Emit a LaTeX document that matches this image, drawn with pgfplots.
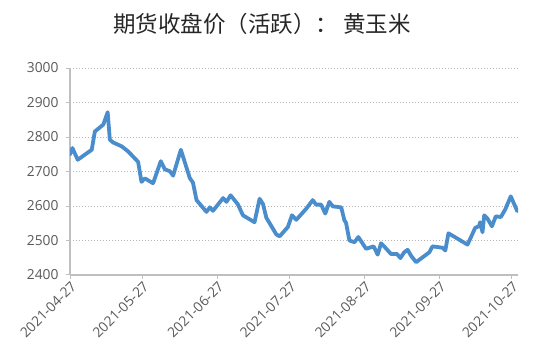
\documentclass[border=0pt]{standalone}
\usepackage{fontspec}
\setmainfont{Open Sans}
\newfontfamily\cjk{Noto Sans CJK SC}
\usepackage{pgfplots}
\pgfplotsset{compat=1.18}
\definecolor{lineblue}{RGB}{74,141,204}
\definecolor{axgray}{RGB}{191,191,191}
\definecolor{gridgray}{RGB}{180,180,180}
\definecolor{txtgray}{RGB}{89,89,89}
\begin{document}
\begin{tikzpicture}
\useasboundingbox (0,0) rectangle (550bp,362bp);
\begin{axis}[
  at={(70bp,87bp)}, anchor=south west,
  scale only axis, width=448bp, height=207bp,
  xmin=0, xmax=185.5, ymin=2400, ymax=3000,
  ytick={2400,2500,2600,2700,2800,2900,3000},
  xtick={0,30,61,91,122,153,183},
  xticklabels={2021-04-27,2021-05-27,2021-06-27,2021-07-27,2021-08-27,2021-09-27,2021-10-27},
  axis x line*=bottom, axis y line*=left,
  x axis line style={axgray, line width=1.8bp},
  y axis line style={axgray, line width=1.2bp},
  ymajorgrids, grid style={dash pattern=on 1bp off 2bp, color=gridgray, line width=1bp},
  tick style={axgray, line width=1bp},
  major tick length=4bp,
  tick align=outside,
  /pgf/number format/assume math mode=true,
  /pgf/number format/1000 sep={},
  tick label style={font=\fontsize{13.8bp}{16bp}\selectfont, color=txtgray},
  yticklabel style={xshift=-4bp},
  xticklabel style={rotate=45, anchor=north east, inner sep=1bp},
  title={期货收盘价（活跃）： 黄玉米},
  title style={at={(0.429,1.184)}, anchor=center, font=\cjk\fontsize{22.5bp}{26bp}\selectfont, color=black!85},
]
\addplot[lineblue, line width=3.8bp, line join=round, line cap=round, no markers] table {
x y
0 2749
1.0 2768
3.2 2734
9.0 2763
10.3 2816
13.8 2836
15.6 2872
16.5 2792
17.9 2784
21.4 2773
24.1 2758
28.2 2728
29.6 2670
31.0 2680
34.4 2666
37.6 2730
39.3 2706
41.3 2701
42.7 2688
45.9 2763
49.6 2681
50.9 2668
52.4 2617
56.5 2583
57.9 2596
59.2 2586
63.4 2623
64.8 2612
66.5 2631
69.5 2605
71.6 2573
76.4 2553
78.5 2621
79.9 2606
81.3 2566
85.4 2518
86.8 2512
90.2 2539
91.9 2573
93.7 2560
97.8 2592
100.5 2617
101.9 2604
104.0 2604
105.7 2578
107.4 2612
108.8 2599
112.3 2596
113.6 2559
114.3 2551
115.7 2500
117.8 2495
119.4 2510
122.6 2476
125.7 2483
127.4 2459
128.8 2492
130.2 2482
132.9 2461
135.4 2461
136.8 2449
138.4 2466
139.8 2473
141.2 2456
143.3 2437
148.8 2466
150.1 2483
154.3 2479
155.4 2471
156.7 2521
164.6 2488
167.8 2537
169.3 2541
169.8 2553
170.8 2524
171.5 2573
172.9 2563
174.7 2541
176.3 2570
178.4 2568
180.2 2590
182.5 2628
185.2 2585
};
\end{axis}
\end{tikzpicture}
\end{document}
